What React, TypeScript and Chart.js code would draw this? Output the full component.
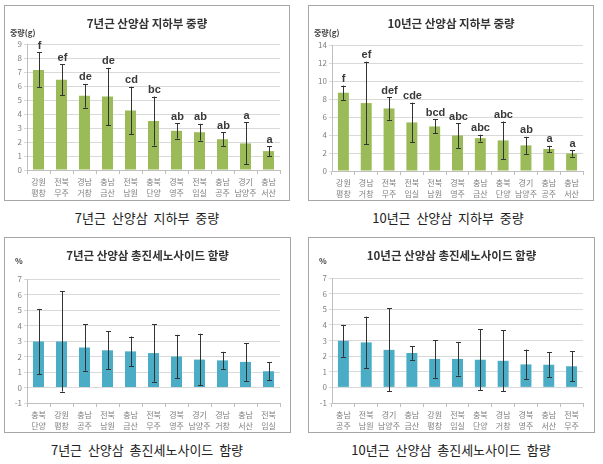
import React, { useEffect, useRef } from 'react';
import { Chart, registerables } from 'chart.js';
Chart.register(...registerables);

// ---------- data ----------
const weight7Labels = [['강원', '평창'], ['전북', '무주'], ['경남', '거창'], ['충남', '금산'], ['전북', '남원'], ['충북', '단양'], ['경북', '영주'], ['전북', '임실'], ['충남', '공주'], ['경기', '남양주'], ['충남', '서산']];
const weight7Values = [7.15, 6.45, 5.3, 5.25, 4.25, 3.5, 2.8, 2.7, 2.2, 1.9, 1.35];
const weight7Errors = [1.25, 1.1, 0.85, 2.05, 1.7, 1.75, 0.55, 0.6, 0.48, 1.5, 0.35];
const weight7Letters = ['f', 'ef', 'de', 'de', 'cd', 'bc', 'ab', 'ab', 'ab', 'a', 'a'];

const weight10Labels = [['강원', '평창'], ['경남', '거창'], ['전북', '무주'], ['전북', '임실'], ['전북', '남원'], ['경북', '영주'], ['충남', '금산'], ['충북', '단양'], ['경기', '남양주'], ['충남', '공주'], ['충남', '서산']];
const weight10Values = [8.7, 7.55, 6.95, 5.4, 4.95, 3.95, 3.65, 3.4, 2.85, 2.45, 1.95];
const weight10Errors = [0.8, 4.6, 1.25, 2.2, 0.78, 1.38, 0.38, 2.1, 0.95, 0.35, 0.35];
const weight10Letters = ['f', 'ef', 'def', 'cde', 'bcd', 'abc', 'abc', 'abc', 'ab', 'a', 'a'];

const saponin7Labels = [['충북', '단양'], ['강원', '평창'], ['충남', '공주'], ['전북', '남원'], ['충남', '금산'], ['전북', '무주'], ['경북', '영주'], ['경기', '남양주'], ['경남', '거창'], ['충남', '서산'], ['전북', '임실']];
const saponin7Values = [2.97, 2.97, 2.58, 2.4, 2.33, 2.22, 2.0, 1.8, 1.75, 1.65, 1.05];
const saponin7Errors = [2.1, 3.23, 1.5, 1.22, 0.96, 1.85, 1.4, 1.67, 0.55, 1.22, 0.58];

const saponin10Labels = [['충남', '공주'], ['전북', '남원'], ['경기', '남양주'], ['충남', '금산'], ['강원', '평창'], ['전북', '임실'], ['충북', '단양'], ['경남', '거창'], ['경북', '영주'], ['충남', '서산'], ['전북', '무주']];
const saponin10Values = [2.98, 2.88, 2.4, 2.2, 1.82, 1.82, 1.77, 1.7, 1.47, 1.45, 1.35];
const saponin10Errors = [1.02, 1.65, 2.66, 0.44, 1.2, 1.06, 1.95, 1.96, 0.95, 0.8, 0.95];

const KR = '"Noto Sans CJK KR", "Noto Sans", sans-serif';

type PanelProps = {
  box: { x: number; y: number; w: number; h: number };
  plot: { left: number; top: number; right: number; bottom: number };
  labels: string[][];
  values: number[];
  errors: number[];
  letters?: string[];
  yMin: number;
  yMax: number;
  yStep: number;
  color: string;
  title: string;
  yTitle: string;
  yTitleX: number;
  yTitleY: number;
};

function Panel(p: PanelProps) {
  const ref = useRef<HTMLCanvasElement>(null);
  useEffect(() => {
    if (!ref.current) return;
    const cw = p.box.w - 2;
    const ch = p.box.h - 2;
    const plugin = {
      id: 'extras',
      afterDatasetsDraw(chart: any) {
        const ctx = chart.ctx;
        const ys = chart.scales.y;
        const meta = chart.getDatasetMeta(0);
        ctx.save();
        ctx.strokeStyle = '#333333';
        ctx.lineWidth = 1;
        p.values.forEach((v, i) => {
          const x = Math.round(meta.data[i].x) + 0.5;
          const top = ys.getPixelForValue(v + p.errors[i]);
          const bot = ys.getPixelForValue(v - p.errors[i]);
          ctx.beginPath();
          ctx.moveTo(x, top);
          ctx.lineTo(x, bot);
          ctx.moveTo(x - 2.5, Math.round(top) + 0.5);
          ctx.lineTo(x + 2.5, Math.round(top) + 0.5);
          ctx.moveTo(x - 2.5, Math.round(bot) + 0.5);
          ctx.lineTo(x + 2.5, Math.round(bot) + 0.5);
          ctx.stroke();
          if (p.letters) {
            ctx.fillStyle = '#3a3a3a';
            ctx.font = 'bold 11px "Liberation Sans", Arial, sans-serif';
            ctx.textAlign = 'center';
            ctx.textBaseline = 'bottom';
            ctx.fillText(p.letters[i], x, top - 1);
          }
        });
        ctx.restore();
      },
      afterDraw(chart: any) {
        const ctx = chart.ctx;
        ctx.save();
        ctx.fillStyle = '#333333';
        ctx.font = `bold 11.5px ${KR}`;
        ctx.textAlign = 'center';
        ctx.textBaseline = 'middle';
        ctx.fillText(p.title, cw / 2, 18);
        ctx.font = `bold 8px ${KR}`;
        ctx.textAlign = 'left';
        ctx.fillStyle = '#404040';
        ctx.fillText(p.yTitle, p.yTitleX, p.yTitleY);
        ctx.restore();
      },
    };
    const chart = new Chart(ref.current, {
      type: 'bar',
      data: {
        labels: p.labels,
        datasets: [{ data: p.values, backgroundColor: p.color, barPercentage: 0.48, categoryPercentage: 1 }],
      },
      options: {
        responsive: false,
        animation: false,
        events: [],
        layout: { padding: { top: p.plot.top, right: cw - p.plot.right, left: 0, bottom: 0 } },
        plugins: { legend: { display: false }, title: { display: false }, tooltip: { enabled: false } },
        scales: {
          x: {
            offset: true,
            grid: { display: true, drawOnChartArea: false, drawTicks: true, tickLength: 4, offset: true, color: '#BFBFBF' },
            border: { display: true, color: '#BFBFBF' },
            ticks: { color: '#7f7f7f', font: { family: KR, size: 8, lineHeight: 1.4 }, padding: 2, maxRotation: 0, autoSkip: false },
            afterFit: (s: any) => { s.height = ch - p.plot.bottom; },
          },
          y: {
            min: p.yMin,
            max: p.yMax,
            grid: { color: '#D9D9D9', drawTicks: true, tickLength: 3 },
            border: { display: true, color: '#BFBFBF' },
            ticks: { stepSize: p.yStep, color: '#7f7f7f', font: { family: KR, size: 8 }, padding: 2 },
            afterFit: (s: any) => { s.width = p.plot.left; },
          },
        },
      },
      plugins: [plugin],
    } as any);
    return () => chart.destroy();
  }, []);
  return (
    <div style={{ position: 'absolute', left: p.box.x, top: p.box.y, width: p.box.w, height: p.box.h, border: '1px solid #A6A6A6', boxSizing: 'border-box', background: '#fff' }}>
      <canvas ref={ref} width={p.box.w - 2} height={p.box.h - 2} style={{ display: 'block' }} />
    </div>
  );
}

function Caption({ x, y, text }: { x: number; y: number; text: string }) {
  return (
    <div style={{ position: 'absolute', left: x - 150, top: y - 10, width: 300, height: 20, lineHeight: '20px', textAlign: 'center', fontFamily: KR, fontSize: 13, color: '#222', whiteSpace: 'pre' }}>{text}</div>
  );
}

export default function App() {
  return (
    <div style={{ position: 'absolute', left: 0, top: 0, width: 603, height: 464, background: '#fff', overflow: 'hidden' }}>
      <Panel box={{ x: 4, y: 5, w: 286, h: 196 }} plot={{ left: 22, top: 38, right: 275, bottom: 164 }}
        labels={weight7Labels} values={weight7Values} errors={weight7Errors} letters={weight7Letters}
        yMin={0} yMax={9} yStep={1} color="#9BBB59" title="7년근 산양삼 지하부 중량" yTitle="중량(g)" yTitleX={5} yTitleY={27} />
      <Panel box={{ x: 308, y: 5, w: 286, h: 196 }} plot={{ left: 23, top: 39, right: 274, bottom: 165 }}
        labels={weight10Labels} values={weight10Values} errors={weight10Errors} letters={weight10Letters}
        yMin={0} yMax={14} yStep={2} color="#9BBB59" title="10년근 산양삼 지하부 중량" yTitle="중량(g)" yTitleX={5} yTitleY={27} />
      <Panel box={{ x: 4, y: 237, w: 287, h: 196 }} plot={{ left: 22, top: 41, right: 275, bottom: 165 }}
        labels={saponin7Labels} values={saponin7Values} errors={saponin7Errors}
        yMin={-1} yMax={7} yStep={1} color="#4BACC6" title="7년근 산양삼 총진세노사이드 함량" yTitle="%" yTitleX={10} yTitleY={23} />
      <Panel box={{ x: 308, y: 237, w: 287, h: 196 }} plot={{ left: 23, top: 40, right: 274, bottom: 165 }}
        labels={saponin10Labels} values={saponin10Values} errors={saponin10Errors}
        yMin={-1} yMax={7} yStep={1} color="#4BACC6" title="10년근 산양삼 총진세노사이드 함량" yTitle="%" yTitleX={10} yTitleY={23} />
      <Caption x={147} y={218} text="7년근  산양삼  지하부  중량" />
      <Caption x={448} y={218} text="10년근  산양삼  지하부  중량" />
      <Caption x={147} y={450} text="7년근  산양삼  총진세노사이드  함량" />
      <Caption x={451} y={450} text="10년근  산양삼  총진세노사이드  함량" />
    </div>
  );
}
